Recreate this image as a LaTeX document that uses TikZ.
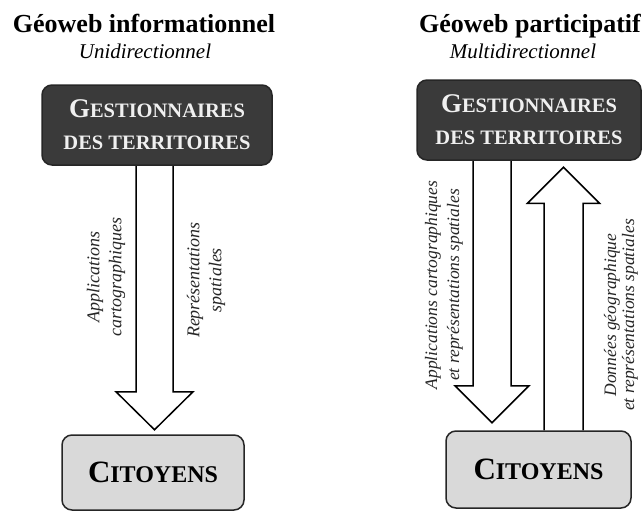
\documentclass[tikz,border=0pt]{standalone}
\usepackage{fontspec}
\setmainfont{Liberation Serif}
\usetikzlibrary{backgrounds,positioning}

\definecolor{boxdark}{HTML}{3A3A3A}
\definecolor{boxlight}{HTML}{D9D9D9}
\definecolor{labelgray}{HTML}{262626}

% large initial letter for the fake small caps
\newcommand{\initial}[2]{{\fontsize{#1}{#1}\selectfont #2}}

\begin{document}
\begin{tikzpicture}[x=1pt, y=-1pt,
	actor/.style={rectangle, rounded corners=10pt, draw=black!85, line width=1.5pt, align=center, inner sep=0pt},
	manager/.style={actor, fill=boxdark, text=white!94!black, font=\bfseries\fontsize{20.5}{32}\selectfont},
	citizen/.style={actor, fill=boxlight, text=black, font=\bfseries\fontsize{24}{28}\selectfont},
	title/.style={anchor=base, font=\bfseries\fontsize{26}{30}\selectfont},
	subtitle/.style={anchor=base, font=\itshape\fontsize{21}{25}\selectfont},
	flowlabel/.style={rotate=90, align=center, text=labelgray, font=\itshape\fontsize{17.5}{22}\selectfont},
	blockarrow/.style={draw=black, fill=white, line width=1.5pt, line join=miter}]
	\useasboundingbox (0,0) rectangle (643,512);

	% informationnel
	\node[title] (titleA) at (144,32) {Géoweb informationnel};
	\node[subtitle] (subA) at (145,58) {Unidirectionnel};
	\node[manager, minimum width=230pt, minimum height=80pt] (gestA) at (157,125)
		{\initial{27}{G}ESTIONNAIRES\\DES TERRITOIRES};
	\node[citizen, minimum width=182pt, minimum height=75pt] (citA) at (153,472.5)
		{\initial{31}{C}ITOYENS};

	% participatif
	\node[title] (titleB) at (530,32) {Géoweb participatif};
	\node[subtitle] (subB) at (523,58) {Multidirectionnel};
	\node[manager, minimum width=224pt, minimum height=80pt] (gestB) at (529,120)
		{\initial{27}{G}ESTIONNAIRES\\DES TERRITOIRES};
	\node[citizen, minimum width=185pt, minimum height=77pt] (citB) at (538.5,469.5)
		{\initial{31}{C}ITOYENS};

	\begin{scope}[on background layer]
		% down
		\draw[blockarrow] ([xshift=-21pt]gestA.south) -- ++(0,226) -- ++(-20,0) -- ++(38.5,38)
			-- ++(38.5,-38) -- ++(-20,0) -- ++(0,-226);
		% down
		\draw[blockarrow] ([xshift=-56pt]gestB.south) -- ++(0,225) -- ++(-18,0) -- ++(37,37)
			-- ++(37,-37) -- ++(-18,0) -- ++(0,-225);
		% up
		\draw[blockarrow] ([xshift=5.5pt]citB.north) -- ++(0,-227) -- ++(-16.5,0) -- ++(36,-36)
			-- ++(36,36) -- ++(-16.5,0) -- ++(0,227);
	\end{scope}

	\node[flowlabel, font=\itshape\fontsize{18}{22}\selectfont] (appA) at (106,277) {Applications\\cartographiques};
	\node[flowlabel, font=\itshape\fontsize{18}{22}\selectfont] (repA) at (206,280) {Représentations\\spatiales};
	\node[flowlabel] (appB) at (444,285) {Applications cartographiques\\et représentations spatiales};
	\node[flowlabel, font=\itshape\fontsize{17.5}{18}\selectfont] (donB) at (621,315) {Données géographique\\et représentations spatiales};
\end{tikzpicture}
\end{document}
